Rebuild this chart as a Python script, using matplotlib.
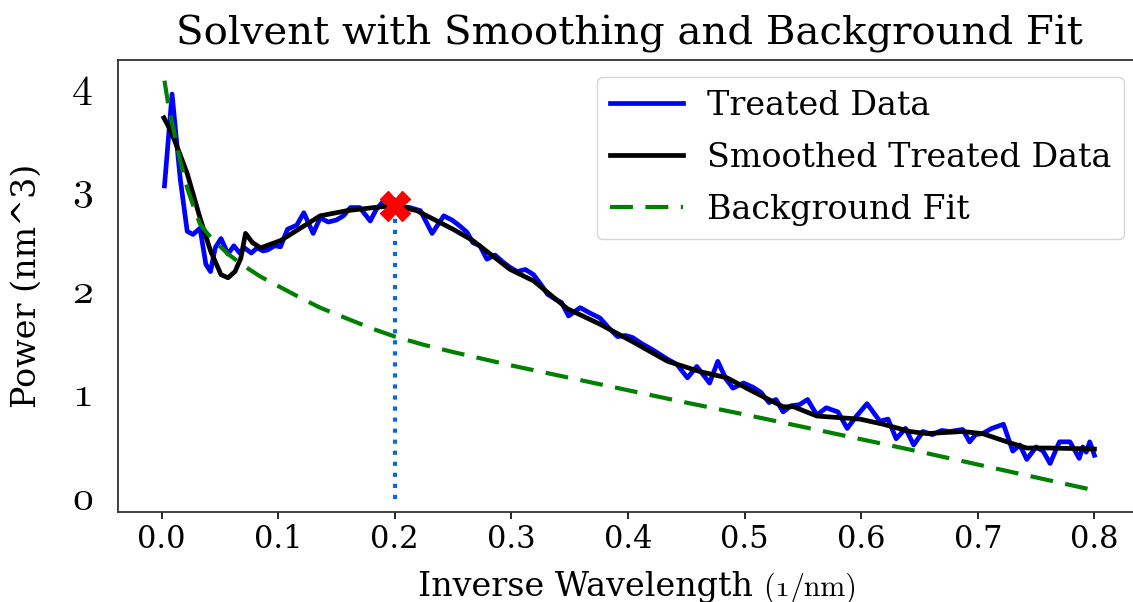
import matplotlib
matplotlib.use('Agg')
import matplotlib.pyplot as plt
from matplotlib.offsetbox import TextArea, HPacker, AnchoredOffsetbox

# raw (treated) spectrum
q_raw = [0.0025, 0.009, 0.016, 0.022, 0.027, 0.033, 0.038, 0.042, 0.046, 0.051,
         0.057, 0.062, 0.067, 0.071, 0.077, 0.082, 0.087, 0.091, 0.097, 0.102,
         0.108, 0.116, 0.122, 0.130, 0.136, 0.143, 0.150, 0.156, 0.162, 0.170,
         0.179, 0.184, 0.190, 0.199, 0.206, 0.213, 0.222, 0.232, 0.242, 0.249,
         0.256, 0.262, 0.267, 0.273, 0.279, 0.286, 0.293, 0.299, 0.305, 0.312,
         0.319, 0.325, 0.331, 0.338, 0.343, 0.349, 0.359, 0.367, 0.376, 0.383,
         0.391, 0.398, 0.404, 0.412, 0.420, 0.427, 0.434, 0.442, 0.451, 0.459,
         0.470, 0.477, 0.484, 0.490, 0.499, 0.507, 0.514, 0.521, 0.527, 0.533,
         0.540, 0.547, 0.554, 0.562, 0.570, 0.580, 0.588, 0.596, 0.605, 0.616,
         0.623, 0.630, 0.638, 0.645, 0.653, 0.661, 0.669, 0.676, 0.687, 0.693,
         0.698, 0.704, 0.712, 0.722, 0.730, 0.736, 0.742, 0.750, 0.756, 0.762,
         0.770, 0.779, 0.784, 0.787, 0.790, 0.793, 0.796, 0.800]
p_raw = [3.03, 3.92, 3.10, 2.59, 2.56, 2.62, 2.27, 2.20, 2.43, 2.52,
         2.37, 2.45, 2.38, 2.43, 2.38, 2.43, 2.40, 2.41, 2.45, 2.44,
         2.61, 2.65, 2.77, 2.57, 2.72, 2.68, 2.70, 2.74, 2.82, 2.82,
         2.69, 2.80, 2.88, 2.90, 2.83, 2.82, 2.79, 2.57, 2.74, 2.70,
         2.64, 2.58, 2.48, 2.45, 2.32, 2.36, 2.29, 2.24, 2.20, 2.22,
         2.17, 2.08, 1.98, 1.93, 1.90, 1.77, 1.85, 1.80, 1.75, 1.66,
         1.57, 1.58, 1.56, 1.50, 1.45, 1.40, 1.35, 1.30, 1.17, 1.28,
         1.12, 1.33, 1.16, 1.07, 1.12, 1.08, 1.03, 0.93, 0.96, 0.84,
         0.90, 0.91, 0.96, 0.81, 0.88, 0.84, 0.68, 0.80, 0.92, 0.75,
         0.77, 0.58, 0.68, 0.52, 0.65, 0.62, 0.66, 0.65, 0.67, 0.55,
         0.62, 0.63, 0.68, 0.72, 0.46, 0.52, 0.38, 0.50, 0.46, 0.34,
         0.55, 0.55, 0.45, 0.39, 0.50, 0.45, 0.55, 0.42]

# smoothed spectrum
q_smooth = [0.002, 0.008, 0.015, 0.022, 0.033, 0.042, 0.051, 0.057, 0.063, 0.068,
            0.072, 0.078, 0.085, 0.102, 0.119, 0.136, 0.159, 0.182, 0.200, 0.219,
            0.250, 0.267, 0.299, 0.319, 0.348, 0.376, 0.404, 0.434, 0.462, 0.485,
            0.505, 0.519, 0.533, 0.542, 0.562, 0.599, 0.619, 0.642, 0.656, 0.687,
            0.704, 0.725, 0.742, 0.762, 0.800]
p_smooth = [3.69, 3.56, 3.36, 3.15, 2.72, 2.40, 2.17, 2.14, 2.20, 2.33,
            2.57, 2.48, 2.43, 2.50, 2.62, 2.74, 2.79, 2.82, 2.84, 2.79,
            2.61, 2.50, 2.22, 2.11, 1.84, 1.69, 1.52, 1.33, 1.23, 1.17,
            1.05, 0.97, 0.89, 0.89, 0.80, 0.77, 0.72, 0.65, 0.63, 0.65,
            0.63, 0.55, 0.49, 0.49, 0.48]

# background fit
q_bg = [0.0025, 0.006, 0.010, 0.016, 0.022, 0.028, 0.033, 0.040, 0.045, 0.057,
        0.070, 0.085, 0.100, 0.120, 0.136, 0.160, 0.180, 0.200, 0.225, 0.250,
        0.300, 0.350, 0.400, 0.450, 0.500, 0.550, 0.600, 0.650, 0.700, 0.750,
        0.800]
p_bg = [4.05, 3.80, 3.59, 3.27, 3.01, 2.81, 2.66, 2.56, 2.50, 2.37,
        2.26, 2.15, 2.06, 1.94, 1.85, 1.74, 1.65, 1.57, 1.49, 1.42,
        1.29, 1.17, 1.05, 0.93, 0.815, 0.695, 0.575, 0.455, 0.33, 0.205,
        0.08]

# peak of the smoothed curve, ignoring the low-q upturn
cand = [i for i, q in enumerate(q_smooth) if q >= 0.1]
peak_i = max(cand, key=lambda i: p_smooth[i])
q_peak, p_peak = q_smooth[peak_i], p_smooth[peak_i]

plt.rcParams['font.family'] = 'DejaVu Serif'

fig = plt.figure(figsize=(11.33, 6.02), dpi=100)
ax = fig.add_axes([0.1041, 0.1495, 0.9029, 0.7508])

ax.plot(q_raw, p_raw, color='blue', lw=3.4, label='Treated Data')
ax.plot(q_smooth, p_smooth, color='black', lw=3.4, label='Smoothed Treated Data')
ax.plot(q_bg, p_bg, color='green', lw=3, ls=(0, (5.5, 3)), label='Background Fit')
ax.plot([q_peak, q_peak], [0, p_peak], color='#0b66e0', lw=3, ls=':')
ax.plot(q_peak, p_peak, marker='X', ms=21, color='red', mec='red', ls='none')

ax.set_xlim(-0.0374, 0.8399)
ax.set_ylim(-0.13, 4.25)
ax.set_xticks([0.0, 0.1, 0.2, 0.3, 0.4, 0.5, 0.6, 0.7, 0.8])
ax.set_yticks([0, 1, 2, 3, 4], labels=['0', '1', '2', '3', '4'])
for t in ax.get_yticklabels():
    t.set_fontfamily('cmmi10')
    t.set_verticalalignment('center')
ax.tick_params(axis='x', labelsize=22, length=5, width=1.2)
ax.tick_params(axis='y', labelsize=30, length=0, pad=18)
for s in ax.spines.values():
    s.set_linewidth(1.3)
    s.set_color('#333333')

ax.set_title('Solvent with Smoothing and Background Fit', fontsize=29, pad=11)
ax.set_ylabel('Power (nm^3)', fontsize=24)
ax.yaxis.set_label_coords(-0.074, 0.5)

# x label: main words plus a smaller unit part
xlab = HPacker(children=[
    TextArea('Inverse Wavelength ', textprops=dict(fontsize=24, family='DejaVu Serif')),
    TextArea('(', textprops=dict(fontsize=21.5, family='cmr10')),
    TextArea('1', textprops=dict(fontsize=21.5, family='cmmi10')),
    TextArea('/nm)', textprops=dict(fontsize=21.5, family='cmr10')),
], align='baseline', pad=0, sep=0)
ax.add_artist(AnchoredOffsetbox(loc='center', child=xlab, pad=0, borderpad=0, frameon=False,
                                bbox_to_anchor=(0.508, -0.167), bbox_transform=ax.transAxes))

ax.legend(loc='upper right', fontsize=24, handlelength=2.2, labelspacing=0.6,
          handletextpad=0.7)

fig.savefig('out.png', dpi=100)
